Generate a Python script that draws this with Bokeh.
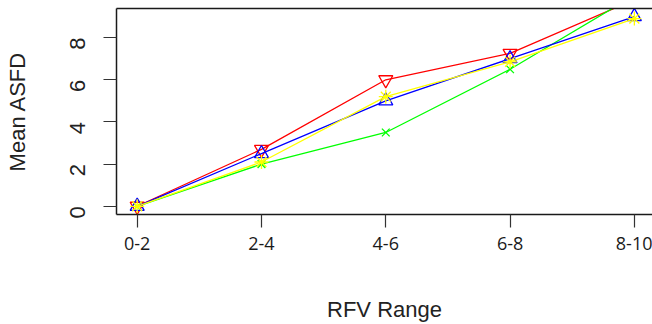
import math
from bokeh.plotting import figure
from bokeh.models import Range1d, FixedTicker, LinearAxis
from bokeh.embed import file_html
from bokeh.resources import INLINE

# ---- data ----
categories = ["0-2", "2-4", "4-6", "6-8", "8-10"]
red_vals = [0.0, 2.7, 6.0, 7.25, 9.8]
green_vals = [0.0, 2.0, 3.5, 6.5, 10.0]
blue_vals = [0.0, 2.5, 5.0, 7.0, 9.0]
yellow_vals = [0.0, 2.1, 5.2, 6.85, 8.9]
y_ticks = [0, 2, 4, 6, 8]

x_idx = list(range(len(categories)))

p = figure(width=652, height=324, output_backend="svg", toolbar_location=None,
           x_range=Range1d(-0.1665, 4.146), y_range=Range1d(-0.39, 9.38),
           min_border_left=116, min_border_right=0, min_border_top=8,
           min_border_bottom=109, x_axis_type=None, y_axis_type=None)
p.outline_line_color = None
p.background_fill_color = "white"
p.border_fill_color = "white"
p.xgrid.visible = False
p.ygrid.visible = False

axis_color = "#1a1a1a"

yaxis = LinearAxis(ticker=FixedTicker(ticks=y_ticks), axis_label="Mean ASFD")
yaxis.major_tick_out = 13
yaxis.major_tick_in = 0
yaxis.minor_tick_out = 0
yaxis.minor_tick_in = 0
yaxis.axis_line_width = 1.5
yaxis.axis_line_color = axis_color
yaxis.major_tick_line_color = "#333333"
yaxis.major_tick_line_width = 1.2
yaxis.major_label_orientation = math.pi / 2
yaxis.major_label_standoff = 26
yaxis.major_label_text_font = "Liberation Sans"
yaxis.major_label_text_font_size = "22px"
yaxis.major_label_text_color = "#222222"
yaxis.axis_label_text_font = "Liberation Sans"
yaxis.axis_label_text_font_size = "22px"
yaxis.axis_label_text_font_style = "normal"
yaxis.axis_label_text_color = "#222222"
yaxis.axis_label_standoff = 30
p.add_layout(yaxis, "left")

xaxis = LinearAxis(ticker=FixedTicker(ticks=x_idx), axis_label="RFV Range")
xaxis.major_label_overrides = {i: c for i, c in zip(x_idx, categories)}
xaxis.major_tick_out = 13
xaxis.major_tick_in = 0
xaxis.minor_tick_out = 0
xaxis.minor_tick_in = 0
xaxis.axis_line_width = 1.5
xaxis.axis_line_color = axis_color
xaxis.major_tick_line_color = "#333333"
xaxis.major_tick_line_width = 1.2
xaxis.major_label_standoff = 9
xaxis.major_label_text_font = "Open Sans"
xaxis.major_label_text_font_size = "18px"
xaxis.major_label_text_color = "#1a1a1a"
xaxis.axis_label_text_font = "Liberation Sans"
xaxis.axis_label_text_font_size = "22px"
xaxis.axis_label_text_font_style = "normal"
xaxis.axis_label_text_color = "#222222"
xaxis.axis_label_standoff = 44
p.add_layout(xaxis, "below")

top = LinearAxis(ticker=FixedTicker(ticks=[]))
top.major_tick_out = 0
top.major_tick_in = 0
top.minor_tick_out = 0
top.minor_tick_in = 0
top.axis_line_width = 1.5
top.axis_line_color = axis_color
p.add_layout(top, "above")

series = [
    (red_vals, "#FF0000", "inverted_triangle", 14),
    (green_vals, "#00FF00", "x", 11),
    (blue_vals, "#0000FF", "triangle", 14),
    (yellow_vals, "#FFFF00", "asterisk", 14),
]
for vals, col, mk, sz in series:
    p.line(x_idx, vals, line_color=col, line_width=1.3)
    p.scatter(x_idx, vals, marker=mk, size=sz, line_color=col,
              fill_color=None, line_width=1.3)

open("out.html", "w").write(file_html(p, INLINE))
